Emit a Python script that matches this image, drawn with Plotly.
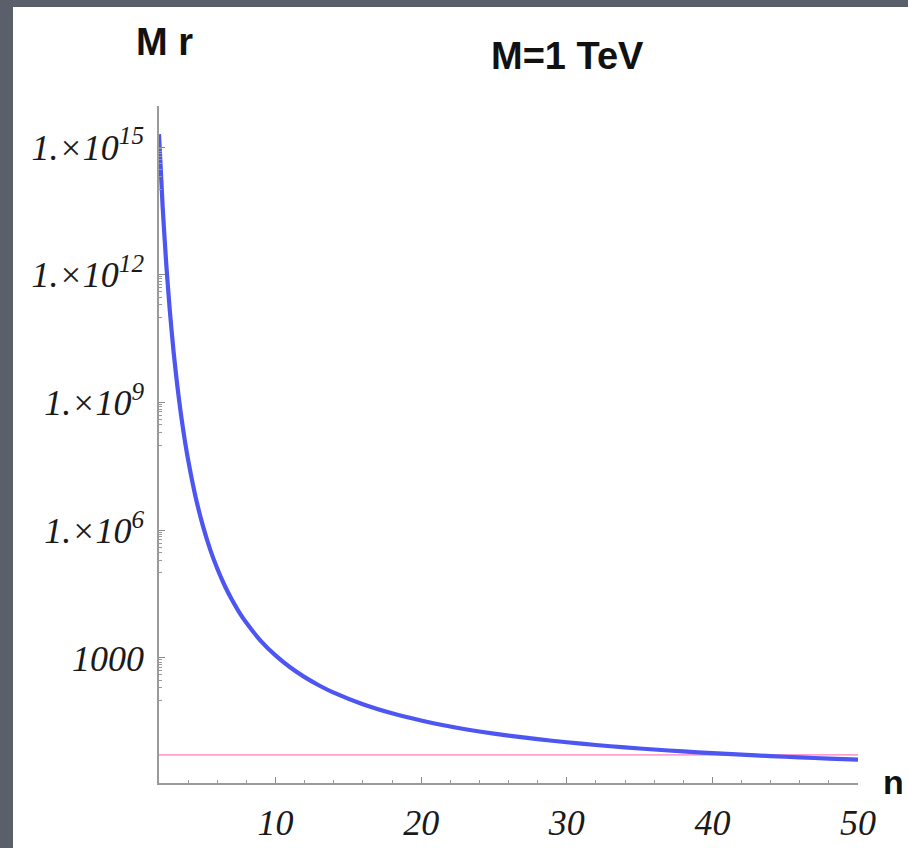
import plotly.graph_objects as go

# values
n_values = [2, 2.25, 2.5, 2.75, 3, 3.25, 3.5, 3.75, 4, 4.5, 5, 5.5, 6, 6.5, 7, 7.5, 8, 9, 10,
            11, 12, 13, 14, 16, 18, 20, 22, 24, 26, 28, 30, 32, 34, 36, 38, 40, 42, 44, 46, 48, 50]
mr_values = [2.0e15, 4.0e13, 1.74e12, 1.34e11, 1.58e10, 2.6e9, 5.53e8, 1.45e8, 4.47e7, 6.3e6,
             1.32e6, 3.66e5, 1.26e5, 5.1e4, 2.35e4, 1.2e4, 6.7e3, 2.5e3, 1150,
             605, 355, 226, 153, 81.8, 50.1, 33.9, 24.6, 18.8, 15.0, 12.4, 10.5, 9.04, 7.94,
             7.08, 6.39, 5.82, 5.35, 4.96, 4.62, 4.34, 4.09]
pink_n = [2, 50]
pink_level = [5.3, 5.3]

y_tickvals = [1e3, 1e6, 1e9, 1e12, 1e15]
y_ticktext = ["1000", "1.×10<sup>6</sup>", "1.×10<sup>9</sup>", "1.×10<sup>12</sup>", "1.×10<sup>15</sup>"]
x_tickvals = [10, 20, 30, 40, 50]
x_ticktext = ["10", "20", "30", "40", "50"]

y_minor = []
for major in [1e3, 1e6, 1e9, 1e12, 1e15]:
    for f in [0.9, 0.8, 0.7, 0.6, 0.5, 0.4, 0.3, 0.2, 0.1]:
        y_minor.append(major * f)
x_minor = [v for v in range(2, 51, 2)]

W, H = 908, 848
L, R, T, B = 159, 50, 106, 65
pw, ph = W - L - R, H - T - B

def px(x):
    return (x - L) / pw

def py(y):
    return (H - B - y) / ph

fig = go.Figure()
fig.add_trace(go.Scatter(x=pink_n, y=pink_level, mode="lines",
                         line=dict(color="#ff9fd0", width=1.6), hoverinfo="skip"))
fig.add_trace(go.Scatter(x=n_values, y=mr_values, mode="lines",
                         line=dict(color="#4d56f0", width=4.2, shape="spline", smoothing=0.6)))

tick_font = dict(family="Liberation Serif, Times New Roman, serif", size=36, color="#1a1a1a", style="italic")
bold_font = dict(family="Liberation Sans, Arial, sans-serif", size=38, color="#111111", weight="bold")

fig.update_xaxes(range=[2, 50], showgrid=False, zeroline=False, showline=True, automargin=False,
                 linecolor="#9a9a9a", linewidth=1.5, ticks="inside", ticklen=6,
                 tickcolor="#8a8a8a", tickwidth=1, tickvals=x_tickvals, ticktext=x_ticktext,
                 tickfont=tick_font, ticklabelstandoff=7,
                 minor=dict(ticks="inside", ticklen=3, tickcolor="#9a9a9a", tickvals=x_minor, showgrid=False))
fig.update_yaxes(type="log", range=[0.064, 15.963], showgrid=False, zeroline=False, showline=True,
                 automargin=False,
                 linecolor="#9a9a9a", linewidth=1.5, ticks="inside", ticklen=6,
                 tickcolor="#8a8a8a", tickwidth=1, tickvals=y_tickvals, ticktext=y_ticktext,
                 tickfont=tick_font, ticklabelstandoff=6,
                 minor=dict(ticks="inside", ticklen=3, tickcolor="#9a9a9a", tickvals=y_minor, showgrid=False))

fig.add_shape(type="rect", xref="paper", yref="paper", x0=px(13), x1=px(W + 5),
              y0=py(H + 5), y1=py(7), fillcolor="white", line=dict(width=0), layer="below")

fig.add_annotation(text="M r", xref="paper", yref="paper", x=px(164), y=py(42),
                   showarrow=False, font=bold_font, xanchor="center", yanchor="middle")
fig.add_annotation(text="M=1 TeV", xref="paper", yref="paper", x=px(567), y=py(56),
                   showarrow=False, font=bold_font, xanchor="center", yanchor="middle")
fig.add_annotation(text="n", xref="paper", yref="paper", x=px(906), y=py(782),
                   showarrow=False, font=dict(bold_font, size=34), xanchor="right", yanchor="middle")

fig.update_layout(width=W, height=H, margin=dict(l=L, r=R, t=T, b=B, pad=0, autoexpand=False),
                  paper_bgcolor="#5b5f6a", plot_bgcolor="white", showlegend=False)

fig.write_html("out.html", config={"displayModeBar": False},
               post_script="document.body.style.margin='0';document.body.style.overflow='hidden';")
